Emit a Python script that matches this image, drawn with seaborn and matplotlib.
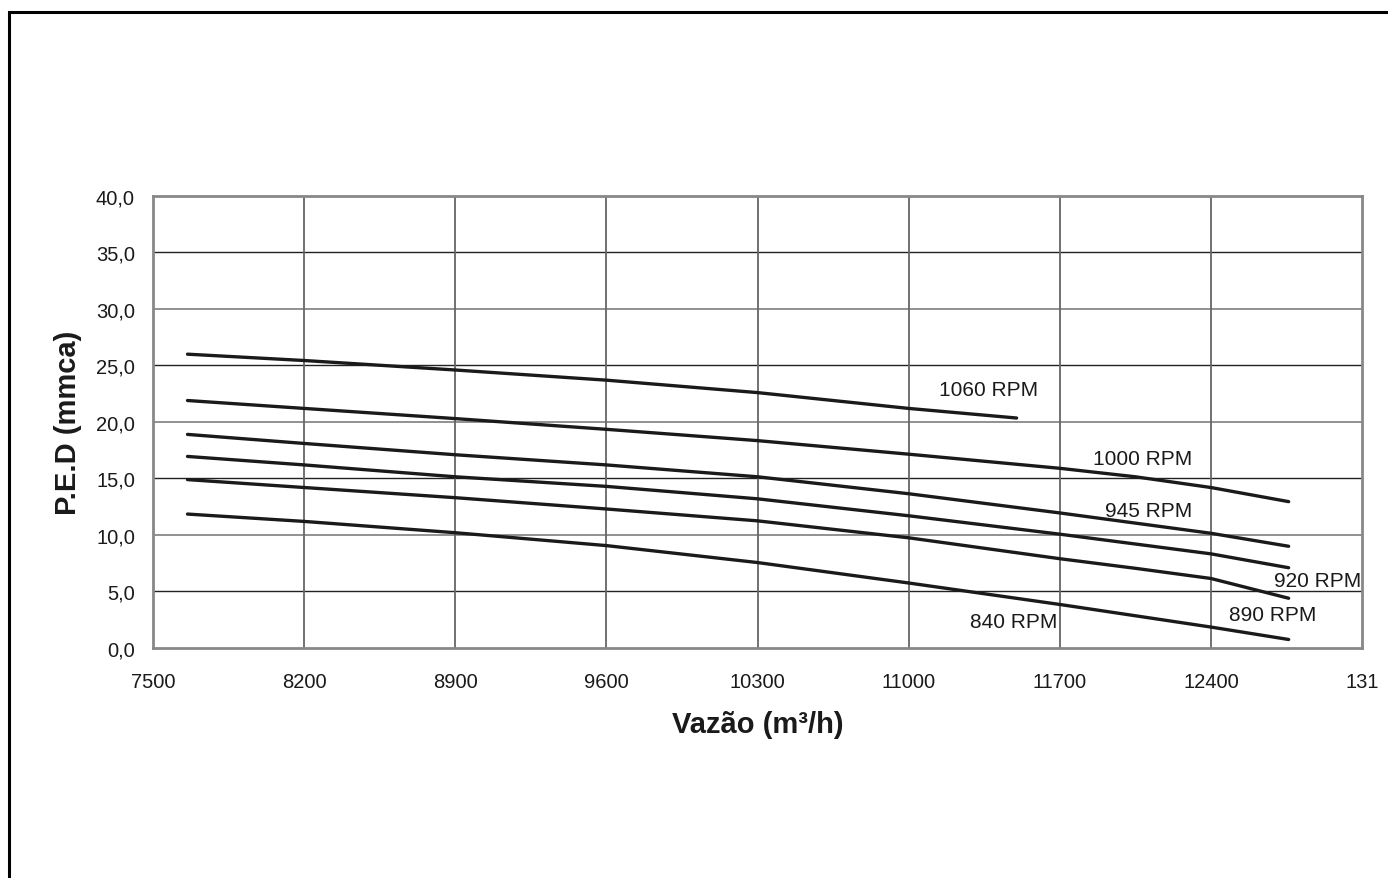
import pandas as pd
import seaborn as sns
import matplotlib.pyplot as plt
from matplotlib.patches import Rectangle

# Flow (m3/h) and static pressure (mmca)
vazao = [7660, 8200, 8900, 9600, 10300, 11000, 11700, 12050, 12400, 12760]
vazao_1060 = [7660, 8200, 8900, 9600, 10300, 11000, 11500]

ped_1060 = [26.0, 25.44, 24.6, 23.7, 22.6, 21.2, 20.35]
ped_1000 = [21.9, 21.2, 20.3, 19.35, 18.35, 17.15, 15.9, 15.15, 14.2, 12.95]
ped_945 = [18.9, 18.1, 17.1, 16.2, 15.15, 13.65, 11.95, 11.05, 10.15, 9.0]
ped_920 = [16.95, 16.2, 15.15, 14.3, 13.2, 11.7, 10.07, 9.2, 8.33, 7.1]
ped_890 = [14.9, 14.2, 13.3, 12.3, 11.25, 9.75, 7.9, 7.05, 6.15, 4.4]
ped_840 = [11.85, 11.2, 10.2, 9.06, 7.56, 5.75, 3.85, 2.85, 1.85, 0.75]

x_ticks = [7500, 8200, 8900, 9600, 10300, 11000, 11700, 12400, 13100]
x_tick_labels = ["7500", "8200", "8900", "9600", "10300", "11000", "11700", "12400", "131"]
y_ticks = [0, 5, 10, 15, 20, 25, 30, 35, 40]
y_tick_labels = ["0,0", "5,0", "10,0", "15,0", "20,0", "25,0", "30,0", "35,0", "40,0"]

series = {
    "1060 RPM": (vazao_1060, ped_1060),
    "1000 RPM": (vazao, ped_1000),
    "945 RPM": (vazao, ped_945),
    "920 RPM": (vazao, ped_920),
    "890 RPM": (vazao, ped_890),
    "840 RPM": (vazao, ped_840),
}
df = pd.concat(
    [pd.DataFrame({"vazao": xs, "ped": ys, "rpm": name}) for name, (xs, ys) in series.items()],
    ignore_index=True,
)

sns.set_style("white")
plt.rcParams["font.family"] = ["Liberation Sans", "DejaVu Sans"]

fig = plt.figure(figsize=(13.88, 8.79), dpi=100)
ax = fig.add_axes([0.1102, 0.2617, 0.8711, 0.5142])

# grid lines, alternating dark / grey like the original
for y in y_ticks[1:-1]:
    col = "#222222" if y % 10 == 5 else "#888888"
    ax.axhline(y, color=col, lw=1.3 if col == "#888888" else 1.0, zorder=0)
for x in x_ticks[1:-1]:
    ax.axvline(x, color="#666666", lw=1.3, zorder=0)

sns.lineplot(data=df, x="vazao", y="ped", hue="rpm", palette={k: "#1a1a1a" for k in series},
             estimator=None, sort=False, legend=False, lw=2.4, ax=ax)

ax.set_xlim(7500, 13100)
ax.set_ylim(0, 40)
ax.set_xticks(x_ticks)
ax.set_xticklabels(x_tick_labels, fontsize=14.5, color="#1a1a1a")
ax.set_yticks(y_ticks)
ax.set_yticklabels(y_tick_labels, fontsize=14.5, color="#1a1a1a")
ax.tick_params(axis="both", direction="out", length=7, width=1.2, color="#777777", pad=6)
ax.tick_params(axis="x", pad=10)

for side in ["left", "bottom", "top", "right"]:
    ax.spines[side].set_color("#888888")
    ax.spines[side].set_linewidth(2.0)

ax.set_xlabel("Vazão (m³/h)", fontsize=21, fontweight="bold", labelpad=14, color="#1a1a1a")
ax.set_ylabel("P.E.D (mmca)", fontsize=21, fontweight="bold", labelpad=10, color="#1a1a1a")

# curve labels
labels = {
    "1060 RPM": (11370, 22.9),
    "1000 RPM": (12083, 16.8),
    "945 RPM": (12110, 12.2),
    "920 RPM": (12893, 6.0),
    "890 RPM": (12685, 3.0),
    "840 RPM": (11486, 2.3),
}
for name, (x, y) in labels.items():
    ax.text(x, y, name, fontsize=15, ha="center", va="center", color="#1a1a1a")

# outer frame of the original picture
fig.patches.append(Rectangle((9 / 1388, -0.1), 1.2, 1 - 13 / 879 + 0.1, transform=fig.transFigure,
                             fill=False, edgecolor="black", lw=2.2))

fig.savefig("out.png", dpi=100)
